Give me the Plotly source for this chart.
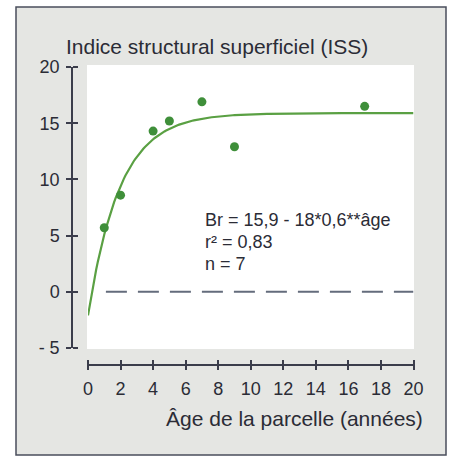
import numpy as np
import plotly.graph_objects as go

# Data
ages = [1, 2, 4, 5, 7, 9, 17]
iss = [5.7, 8.6, 14.3, 15.2, 16.9, 12.9, 16.5]

# Fitted model printed on the chart: Br = 15.9 - 18*0.6**age
fit_a, fit_b, fit_c = 15.9, 18.0, 0.6
fit_x = np.linspace(0, 20, 201)
fit_y = fit_a - fit_b * fit_c ** fit_x

ref_x = [1.1, 20]
ref_y = [0, 0]

x_ticks = list(range(0, 21, 2))
y_ticks = [-5, 0, 5, 10, 15, 20]
y_ticktext = ["- 5", "0", "5", "10", "15", "20"]

W, H = 450, 458
FONT = "Liberation Sans, Arial, sans-serif"
TXT = "#2b2c36"
AX = "#3b3d4b"

fig = go.Figure()
fig.add_trace(go.Scatter(x=ref_x, y=ref_y, mode="lines", xaxis="x2", yaxis="y2",
                         line=dict(color="#646c7c", width=2, dash="21px,11px"),
                         hoverinfo="skip", showlegend=False))
fig.add_trace(go.Scatter(x=fit_x, y=fit_y, mode="lines",
                         line=dict(color="#5aa043", width=2.2),
                         hoverinfo="skip", showlegend=False))
fig.add_trace(go.Scatter(x=ages, y=iss, mode="markers",
                         marker=dict(color="#3f8f3a", size=9),
                         showlegend=False))

xdom = [88 / W, 413.5 / W]
ydom = [1 - 348 / H, 1 - 67 / H]
ypos = 72 / W
xpos = 1 - 364.5 / H

common_y = dict(domain=ydom, range=[-5, 20], anchor="free", position=ypos,
                showgrid=False, zeroline=False, tickvals=y_ticks,
                ticklen=5, tickwidth=1.5, tickcolor=AX, automargin=False)
common_x = dict(domain=xdom, range=[0, 20], anchor="free", position=xpos,
                showgrid=False, zeroline=False, tickvals=x_ticks,
                ticklen=5, tickwidth=1.5, tickcolor=AX, automargin=False)

fig.update_layout(
    width=W, height=H,
    margin=dict(l=0, r=0, t=0, b=0, pad=0, autoexpand=False),
    paper_bgcolor="white",
    plot_bgcolor="white",
    font=dict(family=FONT, color=TXT, size=18),
    xaxis=dict(**common_x, side="bottom", ticks="outside", showline=True,
               linecolor=AX, linewidth=1.5, ticktext=[str(v) for v in x_ticks],
               tickfont=dict(size=18, color=TXT), ticklabelstandoff=3),
    xaxis2=dict(**common_x, side="top", ticks="outside", overlaying="x",
                showline=False, showticklabels=False),
    yaxis=dict(**common_y, side="left", ticks="outside", showline=True,
               linecolor=AX, linewidth=1.5, ticktext=y_ticktext,
               tickfont=dict(size=18, color=TXT), ticklabelstandoff=3),
    yaxis2=dict(**common_y, side="right", ticks="outside", overlaying="y",
                showline=False, showticklabels=False),
    shapes=[
        dict(type="rect", xref="paper", yref="paper", layer="below",
             x0=16 / W, x1=446 / W, y0=1 - 455 / H, y1=1 - 7 / H,
             fillcolor="#e5e6e3", line=dict(color="#4a4e5c", width=1.5)),
        dict(type="rect", xref="paper", yref="paper", layer="below",
             x0=87 / W, x1=414 / W, y0=1 - 349 / H, y1=1 - 65 / H,
             fillcolor="white", line=dict(width=0)),
    ],
    annotations=[
        dict(text="Indice structural superficiel (ISS)", xref="paper", yref="paper",
             x=64 / W, y=1 - 46 / H, xanchor="left", yanchor="middle",
             showarrow=False, font=dict(size=21, color=TXT)),
        dict(text="Âge de la parcelle (années)", xref="paper", yref="paper",
             x=425 / W, y=1 - 418 / H, xanchor="right", yanchor="middle",
             showarrow=False, font=dict(size=21, color=TXT)),
        dict(text="Br = 15,9 - 18*0,6**âge", xref="paper", yref="paper",
             x=203 / W, y=1 - 220 / H, xanchor="left", yanchor="middle",
             showarrow=False, font=dict(size=18, color=TXT)),
        dict(text="r² = 0,83", xref="paper", yref="paper",
             x=203 / W, y=1 - 242 / H, xanchor="left", yanchor="middle",
             showarrow=False, font=dict(size=18, color=TXT)),
        dict(text="n = 7", xref="paper", yref="paper",
             x=203 / W, y=1 - 264 / H, xanchor="left", yanchor="middle",
             showarrow=False, font=dict(size=18, color=TXT)),
    ],
)

fig.write_html("out.html", config={"displayModeBar": False},
               post_script="document.body.style.margin='0';document.body.style.overflow='hidden';")
